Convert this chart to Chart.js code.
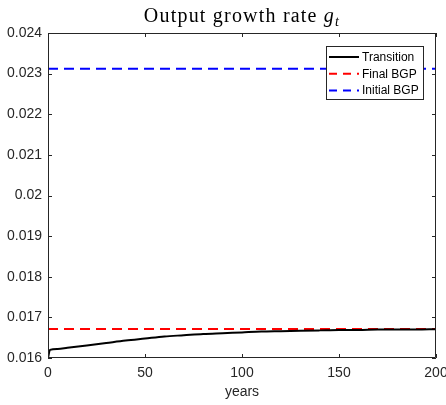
<!DOCTYPE html>
<html>
<head>
<meta charset="utf-8">
<script src="https://cdn.jsdelivr.net/npm/chart.js@4/dist/chart.umd.min.js"></script>
<style>
html,body{margin:0;padding:0;background:#fff;}
#wrap{width:446px;height:405px;position:relative;}
</style>
</head>
<body>
<div id="wrap"><canvas id="c" width="446" height="405"></canvas></div>
<script>
// ---- data ----
const years = [0, 1, 5, 10, 20, 30, 40, 50, 60, 70, 80, 90, 100, 110, 120, 130, 140, 150, 160, 170, 180, 190, 200];
const transition = [0.0160, 0.01620, 0.01622, 0.01625, 0.01631, 0.01637, 0.01643, 0.01648, 0.01653, 0.01656, 0.01659, 0.01661, 0.01663, 0.01665, 0.01666, 0.01667, 0.01668, 0.01669, 0.01669, 0.01670, 0.01670, 0.01670, 0.01671];
const bgpYears = [0, 200];
const finalBGP = [0.016714, 0.016714];
const initialBGP = [0.02312, 0.02312];
const seriesLabels = ["Transition", "Final BGP", "Initial BGP"];
const xTicks = [0, 50, 100, 150, 200];
const yTicks = [0.016, 0.017, 0.018, 0.019, 0.02, 0.021, 0.022, 0.023, 0.024];
const titleMain = "Output growth rate ";
const titleVar = "g";
const titleSub = "t";
const xLabel = "years";

const pts = (xs, ys) => xs.map((x, i) => ({x: x, y: ys[i]}));
const AX = '#262626';
const SANS = '"Liberation Sans", Arial, sans-serif';

const boxPlugin = {
  id: 'boxPlugin',
  afterDraw(chart) {
    const ctx = chart.ctx, a = chart.chartArea;
    const xs = chart.scales.x, ys = chart.scales.y;
    ctx.save();
    ctx.strokeStyle = AX; ctx.lineWidth = 1;
    ctx.beginPath();
    ctx.rect(Math.round(a.left) + 0.5, Math.round(a.top) + 0.5, Math.round(a.right - a.left) - 1, Math.round(a.bottom - a.top) - 1);
    ctx.stroke();
    const tl = 4;
    ctx.beginPath();
    xTicks.forEach(v => {
      const px = Math.round(xs.getPixelForValue(v)) + 0.5;
      ctx.moveTo(px, a.bottom); ctx.lineTo(px, a.bottom - tl);
      ctx.moveTo(px, a.top); ctx.lineTo(px, a.top + tl);
    });
    yTicks.forEach(v => {
      const py = Math.round(ys.getPixelForValue(v)) + 0.5;
      ctx.moveTo(a.left, py); ctx.lineTo(a.left + tl, py);
      ctx.moveTo(a.right, py); ctx.lineTo(a.right - tl, py);
    });
    ctx.stroke();
    // title
    ctx.fillStyle = '#000';
    ctx.textBaseline = 'alphabetic';
    const SER = '"Liberation Serif", "DejaVu Serif", serif';
    const fMain = '20px ' + SER;
    const fIt = 'italic 20px ' + SER;
    const fSub = 'italic 14px ' + SER;
    const ls = 1.2;
    ctx.letterSpacing = ls + 'px';
    ctx.font = fMain; const w1 = ctx.measureText(titleMain).width;
    ctx.font = fIt; const w2 = ctx.measureText(titleVar).width;
    ctx.font = fSub; const w3 = ctx.measureText(titleSub).width;
    const total = w1 + w2 + w3;
    const cx = (a.left + a.right) / 2;
    let x0 = cx - total / 2;
    const by = 22;
    ctx.textAlign = 'left';
    ctx.font = fMain; ctx.fillText(titleMain, x0, by);
    ctx.font = fIt; ctx.fillText(titleVar, x0 + w1, by);
    ctx.font = fSub; ctx.fillText(titleSub, x0 + w1 + w2, by + 4);
    ctx.letterSpacing = '0px';
    // legend
    const lx = 326, ly = 46, lw = 97, lh = 53;
    ctx.fillStyle = '#fff';
    ctx.fillRect(lx, ly, lw, lh);
    ctx.strokeStyle = AX; ctx.lineWidth = 1;
    ctx.strokeRect(lx + 0.5, ly + 0.5, lw, lh);
    ctx.font = '12px ' + SANS;
    ctx.textBaseline = 'middle';
    chart.data.datasets.forEach((ds, i) => {
      const yy = ly + 11 + i * 16.7;
      ctx.strokeStyle = ds.borderColor; ctx.lineWidth = 2;
      ctx.setLineDash(ds.borderDash ? [8, 6] : []);
      ctx.beginPath(); ctx.moveTo(lx + 3, yy); ctx.lineTo(lx + 33, yy); ctx.stroke();
      ctx.setLineDash([]);
      ctx.fillStyle = '#000';
      ctx.fillText(ds.label, lx + 36, yy + 0.5);
    });
    ctx.restore();
  }
};

new Chart(document.getElementById('c'), {
  type: 'line',
  data: {
    datasets: [
      {label: seriesLabels[0], data: pts(years, transition), borderColor: '#000000', borderWidth: 2, pointRadius: 0, cubicInterpolationMode: 'monotone'},
      {label: seriesLabels[1], data: pts(bgpYears, finalBGP), borderColor: '#ff0000', borderWidth: 2, borderDash: [10, 6], pointRadius: 0},
      {label: seriesLabels[2], data: pts(bgpYears, initialBGP), borderColor: '#0000ff', borderWidth: 2, borderDash: [10, 6], pointRadius: 0}
    ]
  },
  options: {
    responsive: false,
    animation: false,
    devicePixelRatio: 1,
    layout: {padding: {top: 33, right: 10, left: 0, bottom: 0}},
    plugins: {legend: {display: false}, title: {display: false}, tooltip: {enabled: false}},
    scales: {
      x: {
        type: 'linear', min: 0, max: 200,
        afterBuildTicks: s => { s.ticks = xTicks.map(v => ({value: v})); },
        grid: {display: false, drawTicks: false},
        border: {display: false},
        ticks: {color: AX, font: {family: SANS, size: 14}, padding: 7, maxRotation: 0},
        title: {display: true, text: xLabel, color: AX, font: {family: SANS, size: 14}, padding: {top: 1}},
        afterFit: s => { s.height = 47; s.paddingLeft = 0; s.paddingRight = 0; }
      },
      y: {
        type: 'linear', min: 0.016, max: 0.024,
        afterBuildTicks: s => { s.ticks = yTicks.map(v => ({value: v})); },
        grid: {display: false, drawTicks: false},
        border: {display: false},
        ticks: {color: AX, font: {family: SANS, size: 14}, padding: 6,
          callback: v => String(parseFloat(Number(v).toFixed(3)))},
        afterFit: s => { s.width = 48; s.paddingTop = 0; s.paddingBottom = 0; }
      }
    }
  },
  plugins: [boxPlugin]
});
</script>
</body>
</html>
